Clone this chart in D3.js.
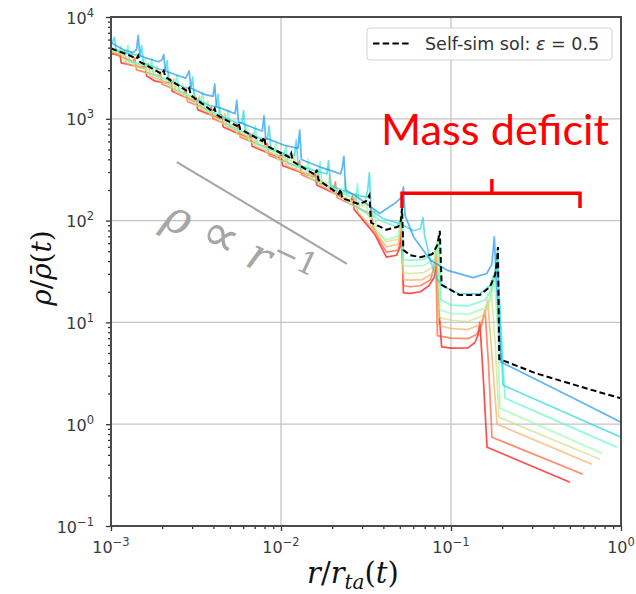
<!DOCTYPE html>
<html><head><meta charset="utf-8">
<script src="https://cdn.jsdelivr.net/npm/d3@7"></script>
<style>body{margin:0;background:#fff}svg{display:block}</style>
</head><body><svg id="chart" width="636" height="594"></svg>
<script>
// ---------------- data ----------------
const xTickValues = [1e-3, 1e-2, 1e-1, 1];
const xTickExps = ["\u22123", "\u22122", "\u22121", "0"];
const yTickValues = [1e-1, 1, 10, 100, 1000, 10000];
const yTickExps = ["\u22121", "0", "1", "2", "3", "4"];

const selfSimSol = [
 [1.000e-3,4898],[1.259e-3,4266],[1.413e-3,3890],[1.445e-3,4169],[1.479e-3,3631],
 [1.995e-3,2754],[2.042e-3,2951],[2.089e-3,2570],[2.818e-3,1862],[2.884e-3,1995],
 [2.951e-3,1698],[3.981e-3,1175],[4.074e-3,1259],[4.169e-3,1096],[5.495e-3,851],
 [5.623e-3,912],[5.754e-3,794],[7.762e-3,603],[7.943e-3,661],[8.128e-3,550],
 [0.01122,417],[0.01148,457],[0.01175,380],[0.01585,282],[0.01622,316],
 [0.01660,251],[0.02188,182],[0.02239,204],[0.02291,166],[0.02884,145],
 [0.03162,155],[0.03311,178],[0.03388,95.5],[0.04169,81.3],[0.04898,87.1],
 [0.05070,100],[0.05152,132],[0.05248,51.3],[0.05754,45.7],[0.06607,43.7],
 [0.07762,46.8],[0.08318,57.5],[0.08590,79.4],[0.08810,23.4],[0.1122,18.6],
 [0.1479,18.6],[0.1698,22.4],[0.1820,29.5],[0.1871,41.7],[0.1888,55.0],
 [0.1923,4.37],[0.3162,3.16],[0.5012,2.51],[0.7943,2.00],[1.000,1.80]
];

const curveBlue = [
 [1.000e-3,5623],[1.175e-3,4786],[1.349e-3,4467],[1.413e-3,4786],[1.445e-3,6607],
 [1.479e-3,4169],[1.660e-3,3890],[1.905e-3,3631],[1.995e-3,3802],[2.042e-3,4266],
 [2.089e-3,2951],[2.512e-3,2630],[2.754e-3,2512],[2.884e-3,2951],[2.951e-3,1995],
 [3.548e-3,1738],[3.981e-3,1660],[4.074e-3,2188],[4.169e-3,1318],[5.012e-3,1175],
 [5.370e-3,1122],[5.495e-3,1514],[5.623e-3,933],[6.918e-3,813],[7.762e-3,759],
 [7.943e-3,1072],[8.128e-3,646],[0.01047,550],[0.01259,513],[0.01288,776],
 [0.01318,398],[0.01738,331],[0.02239,288],[0.02291,331],[0.02344,427],
 [0.02399,200],[0.02818,170],[0.03802,117.5],[0.04677,148],[0.05129,170],
 [0.05248,214],[0.05370,112],[0.06026,69.2],[0.07586,40.7],[0.09550,32.4],
 [0.1349,27.5],[0.1622,30.2],[0.1738,37.2],[0.1799,69.2],[0.1841,28.2],
 [0.1972,4.07],[0.3162,2.754],[0.5623,1.698],[1.000,1.047]
];

const curveCyan = [
 [1.000e-3,5370],[1.047e-3,6310],[1.072e-3,4677],[1.259e-3,4365],[1.479e-3,4169],
 [1.514e-3,5248],[1.549e-3,3548],[1.905e-3,3090],[2.089e-3,2951],[2.138e-3,3715],
 [2.188e-3,2399],[2.692e-3,2042],[2.951e-3,1995],[3.020e-3,2570],[3.090e-3,1585],
 [3.802e-3,1349],[4.169e-3,1318],[4.266e-3,1738],[4.365e-3,1072],[5.495e-3,912],
 [5.888e-3,912],[6.026e-3,1202],[6.166e-3,741],[7.762e-3,631],[8.318e-3,631],
 [8.511e-3,851],[8.710e-3,513],[0.01096,437],[0.01202,437],[0.01230,617],
 [0.01259,355],[0.01585,309],[0.01862,288],[0.01905,389],[0.01950,224],
 [0.02512,186],[0.03162,170],[0.03236,200],[0.03311,295],[0.03388,126],
 [0.03981,105],[0.05012,93.3],[0.06026,79.4],[0.06607,83.2],[0.06839,107],
 [0.06998,70.8],[0.07586,39.8],[0.08318,26.3],[0.09120,22.4],[0.1122,19.05],
 [0.1479,19.05],[0.1698,22.9],[0.1820,31.6],[0.1879,52.5],[0.1897,25.1],
 [0.2023,2.415],[1.000,0.745]
];

const curveAqua = [
 [1.000e-3,5012],[1.230e-3,4365],[1.259e-3,5248],[1.288e-3,3631],[1.698e-3,3236],
 [1.738e-3,3890],[1.778e-3,2692],[2.399e-3,2239],[2.455e-3,2692],[2.512e-3,1862],
 [3.388e-3,1514],[3.467e-3,1820],[3.548e-3,1259],[4.786e-3,1000],[4.898e-3,1202],
 [5.012e-3,832],[6.918e-3,676],[7.079e-3,851],[7.244e-3,562],[0.01047,437],
 [0.01072,550],[0.01096,363],[0.01660,282],[0.01698,380],[0.01738,234],
 [0.02754,162],[0.02818,229],[0.02884,132],[0.03981,97.7],[0.04786,87.1],
 [0.05012,97.7],[0.05129,126],[0.05248,41.7],[0.05754,40.7],[0.06918,41.7],
 [0.07943,47.9],[0.08318,57.5],[0.08511,75.9],[0.08710,16.6],[0.1000,14.8],
 [0.1259,14.5],[0.1585,16.6],[0.1738,20.9],[0.1820,28.2],[0.1871,39.8],
 [0.1950,12.6],[0.2080,1.80],[0.9462,0.594]
];

const curveLightGreen = [
 [1.000e-3,4786],[1.122e-3,4467],[1.148e-3,5248],[1.175e-3,3715],[1.549e-3,3388],
 [1.585e-3,3981],[1.622e-3,2818],[2.138e-3,2455],[2.188e-3,2884],[2.239e-3,2042],
 [3.020e-3,1622],[3.090e-3,1905],[3.162e-3,1349],[4.266e-3,1096],[4.365e-3,1288],
 [4.467e-3,912],[6.166e-3,724],[6.310e-3,851],[6.457e-3,603],[9.120e-3,479],
 [9.333e-3,589],[9.550e-3,398],[0.01413,316],[0.01445,407],[0.01479,263],
 [0.02344,182],[0.02399,251],[0.02455,151],[0.03467,107],[0.03548,132],
 [0.03631,79.4],[0.04169,64.6],[0.04898,70.8],[0.05129,120],[0.05248,36.3],
 [0.05754,35.5],[0.06918,36.3],[0.07943,41.7],[0.08222,52.5],[0.08414,70.8],
 [0.08610,13.2],[0.1000,12.3],[0.1259,12.0],[0.1585,13.8],[0.1698,17.4],
 [0.1758,22.4],[0.1799,29.5],[0.1884,7.94],[0.1941,1.436],[0.7727,0.519]
];

const curveYellowGreen = [
 [1.000e-3,4680],[1.288e-3,3980],[1.318e-3,4570],[1.349e-3,3310],[1.820e-3,2880],
 [1.862e-3,3310],[1.905e-3,2400],[2.570e-3,1950],[2.630e-3,2240],[2.692e-3,1620],
 [3.631e-3,1318],[3.715e-3,1513],[3.802e-3,1097],[5.248e-3,851],[5.370e-3,977],
 [5.495e-3,708],[7.762e-3,575],[7.943e-3,661],[8.128e-3,479],[0.01175,381],
 [0.01202,457],[0.01230,316],[0.01905,229],[0.01950,288],[0.01995,190],
 [0.03090,138],[0.03162,174],[0.03236,115],[0.03631,79.4],[0.04169,61.7],
 [0.04898,66.1],[0.05129,112],[0.05248,30.9],[0.05754,30.2],[0.06918,30.9],
 [0.07943,35.5],[0.08128,45.7],[0.08318,63.1],[0.08511,11.2],[0.1000,10.5],
 [0.1259,10.2],[0.1514,11.5],[0.1660,14.1],[0.1698,17.0],[0.1718,22.4],
 [0.1820,6.31],[0.1914,1.172],[0.7516,0.453]
];

const curveOrange = [
 [1.000e-3,4570],[1.175e-3,4168],[1.202e-3,4677],[1.230e-3,3467],[1.622e-3,3162],
 [1.660e-3,3547],[1.698e-3,2630],[2.291e-3,2187],[2.344e-3,2454],[2.399e-3,1820],
 [3.236e-3,1479],[3.311e-3,1659],[3.388e-3,1230],[4.571e-3,1000],[4.677e-3,1122],
 [4.786e-3,831],[6.761e-3,646],[6.918e-3,725],[7.079e-3,537],[0.01023,417],
 [0.01047,478],[0.01072,347],[0.01622,269],[0.01660,316],[0.01698,224],
 [0.02692,148],[0.02754,182],[0.02818,123],[0.03548,79.4],[0.04169,55.0],
 [0.04898,58.9],[0.05129,100],[0.05248,26.3],[0.05754,26.0],[0.06761,26.3],
 [0.07762,30.2],[0.08035,39.8],[0.08222,55.0],[0.08414,9.33],[0.1000,8.71],
 [0.1259,8.51],[0.1479,9.55],[0.1585,12.0],[0.1641,16.6],[0.1738,5.01],
 [0.1866,1.000],[0.6745,0.405]
];

const curveOrangeRed = [
 [1.000e-3,4469],[1.349e-3,3632],[1.380e-3,3983],[1.413e-3,3021],[1.905e-3,2632],
 [1.950e-3,2886],[1.995e-3,2189],[2.692e-3,1780],[2.754e-3,1951],[2.818e-3,1479],
 [3.802e-3,1203],[3.890e-3,1319],[3.981e-3,1000],[5.495e-3,794],[5.623e-3,872],
 [5.754e-3,661],[8.128e-3,525],[8.318e-3,576],[8.511e-3,436],[0.01259,339],
 [0.01288,389],[0.01318,282],[0.02042,205],[0.02089,240],[0.02138,169],
 [0.03311,117.5],[0.03388,135],[0.03467,89.1],[0.03802,63.1],[0.04169,49.0],
 [0.04898,51.3],[0.05012,63.1],[0.05129,89.1],[0.05248,22.9],[0.05754,22.4],
 [0.06607,22.9],[0.07586,26.3],[0.07943,34.7],[0.08128,47.9],[0.08318,7.41],
 [0.1000,7.00],[0.1259,6.92],[0.1413,7.59],[0.1514,9.33],[0.1585,13.2],
 [0.1660,3.98],[0.1742,0.745],[0.5970,0.323]
];

const curveRed = [
 [1.000e-3,4363],[1.096e-3,4263],[1.122e-3,4675],[1.148e-3,3547],[1.549e-3,3161],
 [1.585e-3,3466],[1.622e-3,2629],[1.820e-3,2343],[2.188e-3,2238],[2.239e-3,2454],
 [2.291e-3,1861],[3.090e-3,1478],[3.162e-3,1621],[3.236e-3,1230],[4.365e-3,1000],
 [4.467e-3,1096],[4.571e-3,832],[6.457e-3,646],[6.607e-3,708],[6.761e-3,537],
 [9.772e-3,416],[0.01000,457],[0.01023,346],[0.01549,269],[0.01585,295],
 [0.01622,224],[0.02570,155],[0.02630,173],[0.02692,129],[0.03548,74.0],
 [0.04169,43.7],[0.04786,45.7],[0.05012,55.0],[0.05129,79.4],[0.05248,19.5],
 [0.05754,19.3],[0.06607,20.0],[0.07413,22.9],[0.07943,27.5],[0.08222,35.5],
 [0.08511,12.6],[0.08810,5.75],[0.1000,5.58],[0.1259,5.62],[0.1380,6.31],
 [0.1445,7.59],[0.1479,10.0],[0.1549,2.82],[0.1629,0.594],[0.5012,0.269]
];

// drawing order: red first, blue last
const curveSeries = [curveRed, curveOrangeRed, curveOrange, curveYellowGreen,
                     curveLightGreen, curveAqua, curveCyan, curveBlue];
const curveColors = ["#ff0000", "#ff5a2e", "#ffa85a", "#d0e083",
                     "#95fda8", "#5bf9c7", "#21d5e0", "#1a96f3"];

const legendLabel = ["Self-sim sol: ", "\u03b5", " = 0.5"];
const refLine = [[2.44e-3, 376], [2.44e-2, 37.6]];
const bracketEnds = [[0.0515, 133], [0.0515, 186], [0.574, 186], [0.574, 133]];
const bracketMid = [[0.174, 186], [0.174, 256]];
const annotationText = "Mass deficit";

// ---------------- layout ----------------
const L = 111, R = 621, T = 17, B = 526;
const svg = d3.select("#chart");
svg.append("rect").attr("width", 636).attr("height", 594).attr("fill", "#fff");

const x = d3.scaleLog().domain([1e-3, 1]).range([L, R]);
const y = d3.scaleLog().domain([1e-1, 1e4]).range([B, T]);

// grid
const grid = svg.append("g");
grid.selectAll("line.gx").data(xTickValues.slice(1, -1)).join("line")
  .attr("x1", d => x(d)).attr("x2", d => x(d)).attr("y1", T).attr("y2", B)
  .attr("stroke", "#c4c4c4").attr("stroke-width", 1.3);
grid.selectAll("line.gy").data(yTickValues.slice(1, -1)).join("line")
  .attr("y1", d => y(d)).attr("y2", d => y(d)).attr("x1", L).attr("x2", R)
  .attr("stroke", "#c4c4c4").attr("stroke-width", 1.3);

// clip
svg.append("clipPath").attr("id", "clip").append("rect")
  .attr("x", L).attr("y", T).attr("width", R - L).attr("height", B - T);

const line = d3.line().x(d => x(d[0])).y(d => y(d[1]));
const plot = svg.append("g").attr("clip-path", "url(#clip)");
curveSeries.forEach((s, i) => {
  plot.append("path").datum(s).attr("d", line).attr("fill", "none")
    .attr("stroke", curveColors[i]).attr("stroke-opacity", 0.7)
    .attr("stroke-width", 1.7).attr("stroke-linejoin", "round");
});
plot.append("path").datum(selfSimSol).attr("d", line).attr("fill", "none")
  .attr("stroke", "#000").attr("stroke-width", 2).attr("stroke-dasharray", "6,3.2");

// reference slope line + label
svg.append("path").datum(refLine).attr("d", line)
  .attr("stroke", "#a3a3a3").attr("stroke-width", 2).attr("fill", "none");
const refText = svg.append("text")
  .attr("transform", "translate(160,226) rotate(25)")
  .attr("font-family", "DejaVu Serif").attr("font-style", "italic")
  .attr("font-size", 45).attr("fill", "#a6a6a6")
  .style("white-space", "pre");
refText.append("tspan").text("\u03c1 ");
refText.append("tspan").attr("font-family", "Noto Sans").attr("font-style", "normal")
  .attr("font-size", 52).text("\u221d");
refText.append("tspan").text(" r");
refText.append("tspan").attr("dy", -18).attr("font-size", 31).attr("font-style", "normal").text("\u22121");

// axes ticks
const isDecade = v => Math.abs(Math.log10(v) - Math.round(Math.log10(v))) < 1e-9;
const xMinor = x.ticks().filter(v => !isDecade(v));
const yMinor = y.ticks().filter(v => !isDecade(v));

const gx = svg.append("g").attr("transform", `translate(0,${B})`);
gx.call(d3.axisBottom(x).tickValues(xTickValues).tickSize(5).tickFormat(""));
gx.call(g => g.select(".domain").remove());
const gx2 = svg.append("g").attr("transform", `translate(0,${B})`);
gx2.call(d3.axisBottom(x).tickValues(xMinor).tickSize(3).tickFormat(""));
gx2.call(g => g.select(".domain").remove());
const gy = svg.append("g").attr("transform", `translate(${L},0)`);
gy.call(d3.axisLeft(y).tickValues(yTickValues).tickSize(5).tickFormat(""));
gy.call(g => g.select(".domain").remove());
const gy2 = svg.append("g").attr("transform", `translate(${L},0)`);
gy2.call(d3.axisLeft(y).tickValues(yMinor).tickSize(3).tickFormat(""));
gy2.call(g => g.select(".domain").remove());
svg.selectAll(".tick line").attr("stroke", "#333").attr("stroke-width", 1.3);

// spines
svg.append("rect").attr("x", L).attr("y", T).attr("width", R - L).attr("height", B - T)
  .attr("fill", "none").attr("stroke", "#4a4a4a").attr("stroke-width", 2);

// tick labels
const labelFont = "DejaVu Sans";
xTickValues.forEach((v, i) => {
  const t = svg.append("text").attr("x", x(v)).attr("y", 553)
    .attr("text-anchor", "middle").attr("font-family", labelFont)
    .attr("font-size", 16).attr("fill", "#3a3a3a");
  t.append("tspan").text("10");
  t.append("tspan").attr("dy", -7).attr("font-size", 11.5).text(xTickExps[i]);
});
yTickValues.forEach((v, i) => {
  const t = svg.append("text").attr("x", 94).attr("y", y(v) + 6.5)
    .attr("text-anchor", "end").attr("font-family", labelFont)
    .attr("font-size", 16).attr("fill", "#3a3a3a");
  t.append("tspan").text("10");
  t.append("tspan").attr("dy", -7).attr("font-size", 11.5).text(yTickExps[i]);
});

// axis titles
const xt = svg.append("text").attr("x", 307).attr("y", 583)
  .attr("font-family", "DejaVu Serif").attr("font-size", 29).attr("fill", "#111");
xt.append("tspan").attr("font-style", "italic").text("r");
xt.append("tspan").text("/");
xt.append("tspan").attr("font-style", "italic").text("r");
xt.append("tspan").attr("font-style", "italic").attr("font-size", 20).attr("dy", 6).text("ta");
xt.append("tspan").attr("dy", -6).text("(");
xt.append("tspan").attr("font-style", "italic").text("t");
xt.append("tspan").text(")");

const yt = svg.append("text").attr("transform", "translate(51,268) rotate(-90)")
  .attr("text-anchor", "middle")
  .attr("font-family", "DejaVu Serif").attr("font-size", 28).attr("fill", "#111");
yt.append("tspan").attr("font-style", "italic").text("\u03c1");
yt.append("tspan").text("/");
yt.append("tspan").attr("font-style", "italic").text("\u03c1\u0304");
yt.append("tspan").text("(");
yt.append("tspan").attr("font-style", "italic").text("t");
yt.append("tspan").text(")");

// legend
svg.append("rect").attr("x", 367).attr("y", 28).attr("width", 245).attr("height", 32)
  .attr("rx", 3).attr("fill", "#fff").attr("fill-opacity", 0.85)
  .attr("stroke", "#d2d2d2").attr("stroke-width", 1);
svg.append("line").attr("x1", 373).attr("x2", 410).attr("y1", 43.5).attr("y2", 43.5)
  .attr("stroke", "#000").attr("stroke-width", 2).attr("stroke-dasharray", "6.5,3.2");
const lt = svg.append("text").attr("x", 425).attr("y", 49.5)
  .attr("font-family", labelFont).attr("font-size", 17.5).attr("fill", "#333")
  .style("white-space", "pre");
lt.append("tspan").text(legendLabel[0]);
lt.append("tspan").attr("font-style", "italic").text(legendLabel[1]);
lt.append("tspan").text(legendLabel[2]);

// mass deficit annotation
svg.append("text").attr("x", 381).attr("y", 145)
  .attr("font-family", "Lato").attr("font-size", 42).attr("fill", "#ff0000")
  .attr("textLength", 228).attr("lengthAdjust", "spacingAndGlyphs")
  .text(annotationText);
svg.append("path").datum(bracketEnds).attr("d", line)
  .attr("fill", "none").attr("stroke", "#ff0000").attr("stroke-width", 3.5)
  .attr("stroke-linejoin", "miter");
svg.append("path").datum(bracketMid).attr("d", line)
  .attr("fill", "none").attr("stroke", "#ff0000").attr("stroke-width", 3.5);
</script></body></html>
